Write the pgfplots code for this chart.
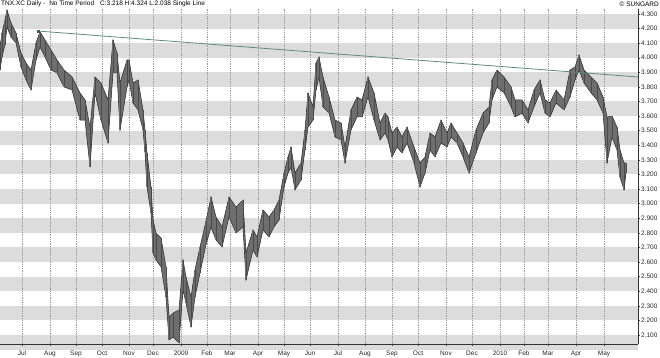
\documentclass[border=0pt]{standalone}
\usepackage{fontspec}
\setmainfont{Liberation Sans}
\usepackage{pgfplots}
\pgfplotsset{compat=1.18}
\usepackage{pgfplotstable}
\usepgfplotslibrary{fillbetween}
\definecolor{band}{HTML}{DCDCDC}
\definecolor{barfill}{HTML}{6E6E6E}
\definecolor{bardark}{HTML}{2E2E2E}
\definecolor{barmid}{HTML}{4A4A4A}
\definecolor{trend}{HTML}{5E8A82}
\pgfplotstableread{
x hi lo
0 4.074 3.916
2 4.170 4.005
5 4.260 4.090
7 4.327 4.211
11 4.238 4.142
16 4.170 4.101
21 4.033 3.937
26 3.964 3.848
31 3.916 3.779
36 4.101 3.985
40 4.177 4.074
45 4.122 4.005
51 4.053 3.916
57 3.985 3.896
64 3.916 3.800
72 3.868 3.779
80 3.759 3.573
85 3.711 3.573
90 3.525 3.251
95 3.868 3.759
101 3.827 3.573
108 3.711 3.416
113 4.122 3.896
117 4.033 3.896
120 3.827 3.505
127 3.985 3.800
129 3.985 3.848
133 3.827 3.690
138 3.848 3.642
143 3.642 3.505
145 3.505 3.354
147 3.347 3.114
151 3.114 2.936
153 2.888 2.662
156 2.799 2.614
161 2.765 2.566
166 2.566 2.360
169 2.223 2.066
173 2.250 2.086
179 2.271 2.045
183 2.614 2.408
186 2.497 2.319
191 2.360 2.155
195 2.546 2.360
200 2.703 2.525
206 2.880 2.720
211 3.046 2.840
216 2.909 2.751
222 2.840 2.703
229 3.046 2.909
236 2.977 2.799
243 3.025 2.840
246 2.662 2.477
253 2.820 2.682
257 2.772 2.634
263 2.957 2.820
269 2.909 2.772
274 2.957 2.840
279 3.025 2.888
284 3.210 3.114
288 3.320 3.210
291 3.388 3.251
295 3.210 3.094
301 3.279 3.162
305 3.505 3.368
308 3.759 3.525
313 3.663 3.573
316 3.964 3.779
319 4.005 3.868
323 3.868 3.663
329 3.731 3.621
335 3.573 3.457
341 3.553 3.436
345 3.388 3.279
351 3.642 3.505
357 3.731 3.594
362 3.711 3.594
368 3.868 3.731
374 3.759 3.573
380 3.553 3.436
385 3.621 3.484
388 3.594 3.436
392 3.484 3.320
397 3.525 3.388
402 3.457 3.347
407 3.525 3.416
414 3.388 3.279
420 3.279 3.114
425 3.320 3.210
430 3.484 3.368
435 3.457 3.320
441 3.573 3.416
447 3.484 3.388
451 3.553 3.457
457 3.484 3.416
463 3.416 3.320
469 3.320 3.210
476 3.505 3.347
483 3.621 3.484
489 3.663 3.553
492 3.848 3.711
497 3.916 3.800
504 3.868 3.759
511 3.800 3.663
515 3.711 3.594
522 3.711 3.621
528 3.642 3.553
534 3.779 3.663
540 3.848 3.759
545 3.711 3.621
550 3.690 3.594
556 3.779 3.690
564 3.711 3.642
570 3.916 3.731
575 3.937 3.848
579 4.019 3.916
584 3.916 3.827
591 3.868 3.759
597 3.827 3.711
603 3.731 3.621
607 3.594 3.279
612 3.600 3.457
617 3.525 3.368
620 3.368 3.183
624 3.279 3.094
626 3.279 3.210
}\tnx
\pgfplotstableread{
x y
38 4.183
638 3.868
}\trendline
\begin{document}
\begin{tikzpicture}
\begin{axis}[
  at={(0pt,0pt)}, anchor=south west,
  scale only axis, width=638pt, height=335pt,
  xmin=0, xmax=638, ymin=2.038, ymax=4.334,
  set layers,
  axis x line*=bottom, axis y line*=right,
  axis line style={black!80, line width=0.6pt},
  xtick={22,50,76,102,129,153,181,207,230,258,284,310,338,365,392,418,446,472,500,524,548,576,604},
  xticklabels={Jul,Aug,Sep,Oct,Nov,Dec,2009,Feb,Mar,Apr,May,Jun,Jul,Aug,Sep,Oct,Nov,Dec,2010,Feb,Mar,Apr,May},
  ytick={2.1,2.2,2.3,2.4,2.5,2.6,2.7,2.8,2.9,3.0,3.1,3.2,3.3,3.4,3.5,3.6,3.7,3.8,3.9,4.0,4.1,4.2,4.3},
  yticklabel style={/pgf/number format/fixed, /pgf/number format/fixed zerofill,
    /pgf/number format/precision=3, /pgf/number format/assume math mode=true},
  yticklabel style={inner xsep=1pt, font=\fontsize{6.5}{7}\selectfont, text=black!85},
  xticklabel style={yshift=-1.5pt, font=\fontsize{6.5}{7}\selectfont, text=black!85},
  tick align=outside, major tick length=2pt,
  tick style={black!70, line width=0.4pt},
  xmajorgrids, grid style={dash pattern=on 0.6pt off 1.2pt, black!40, line width=0.5pt},
  clip=true,
]
\begin{pgfonlayer}{axis background}
\pgfplotsinvokeforeach{0,...,11}{
  \fill[band] (axis cs:0,{2.0+0.2*#1}) rectangle (axis cs:638,{2.1+0.2*#1});
}
\end{pgfonlayer}
\addplot[name path=H, draw=bardark, line width=0.55pt] table[x=x, y=hi] {\tnx};
\addplot[name path=L, draw=bardark, line width=0.55pt] table[x=x, y=lo] {\tnx};
\addplot[barfill] fill between[of=H and L];
\addplot[draw=none, mark=none, error bars/.cd, y dir=plus, y explicit,
  error mark=none, error bar style={barfill, line width=2.8pt}]
  table[x=x, y=lo, y error expr=\thisrow{hi}-\thisrow{lo}] {\tnx};
\addplot[draw=none, mark=none, error bars/.cd, y dir=plus, y explicit,
  error mark=none, error bar style={barmid, line width=0.45pt}]
  table[x=x, y=lo, y error expr=\thisrow{hi}-\thisrow{lo}] {\tnx};
\addplot[trend, line width=0.8pt, mark=square*, mark size=1.1pt, mark indices={1},
  mark options={fill=trend!70!black, draw=trend!70!black}] table[x=x, y=y] {\trendline};
\end{axis}
\node[anchor=west, inner sep=0pt, font=\fontsize{6.5}{7}\selectfont] at (1pt,340pt)
  {TNX.XC Daily -\hspace{4pt}No Time Period\hspace{6pt}C:3.218 H:4.324 L:2.038 Single Line};
\node[anchor=east, inner sep=0pt, font=\fontsize{6.5}{7}\selectfont] at (659pt,340pt)
  {© SUNGARD};
\pgfresetboundingbox
\path (0pt,-14pt) rectangle (660pt,344pt);
\end{tikzpicture}
\end{document}
